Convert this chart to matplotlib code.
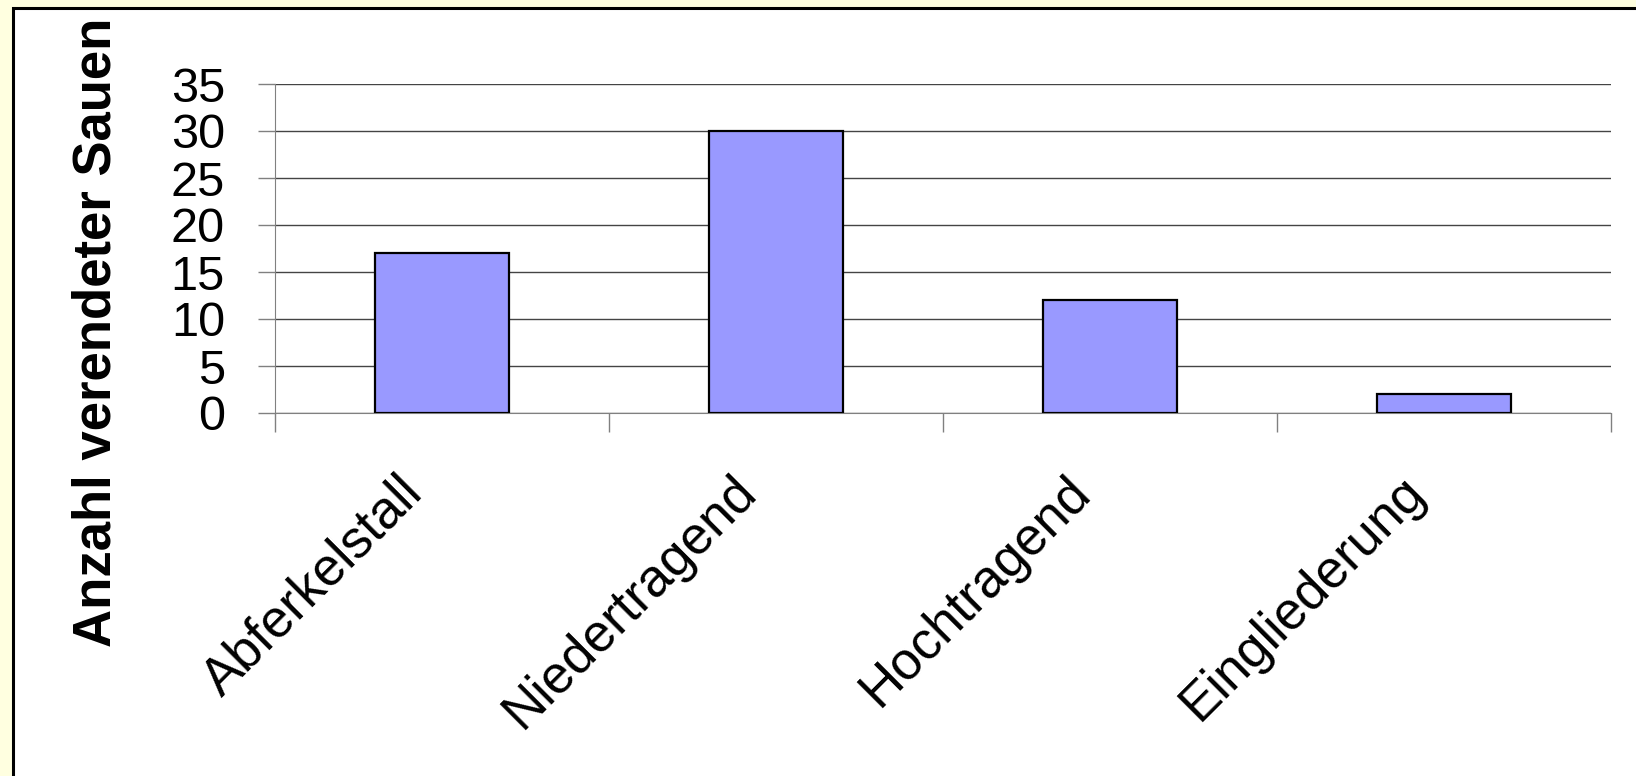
import matplotlib
matplotlib.use("Agg")
import matplotlib.pyplot as plt
import matplotlib.transforms as mtransforms
from matplotlib.patches import Rectangle
import numpy as np

# Data
categories = ["Abferkelstall", "Niedertragend", "Hochtragend", "Eingliederung"]
counts = [17, 30, 12, 2]
y_ticks = [0, 5, 10, 15, 20, 25, 30, 35]

plt.rcParams['font.family'] = ['Liberation Sans', 'DejaVu Sans']

fig = plt.figure(figsize=(16.36, 7.76), dpi=100)
fig.patch.set_facecolor('#FFFFE0')

# white chart frame with black border (runs off the right/bottom edges)
frame = Rectangle((13 / 1636, -0.05), 1.1, 1 - 8 / 776 + 0.05,
                  transform=fig.transFigure, facecolor='white',
                  edgecolor='black', linewidth=2.2, zorder=-5)
fig.patches.append(frame)

ax = fig.add_axes([275 / 1636, 1 - 413 / 776, (1611 - 275) / 1636, (413 - 84) / 776])
ax.set_zorder(5)
ax.set_facecolor('none')

x = np.arange(len(categories))
ax.bar(x, counts, width=0.4, color='#9999FF', edgecolor='black',
       linewidth=1.6, zorder=3)

ax.set_xlim(-0.5, len(categories) - 0.5)
ax.set_ylim(0, 35)
ax.set_yticks(y_ticks)
ax.set_yticklabels([str(v) for v in y_ticks], fontsize=35)
ax.yaxis.grid(True, color='#444444', linewidth=1.0, zorder=1)
ax.tick_params(axis='y', length=12, width=1, color='#808080', pad=24)

ax.set_xticks(x)
ax.set_xticklabels(categories, rotation=45, ha='right', va='top',
                   rotation_mode='anchor', fontsize=38)
ax.tick_params(axis='x', which='major', length=0, pad=40)
ax.set_xticks(np.arange(len(categories) + 1) - 0.5, minor=True)
ax.tick_params(axis='x', which='minor', length=14, width=1, color='#808080')

# shift the slanted labels a bit to the left, like the original
shift = mtransforms.ScaledTranslation(-0.45, 0.02, fig.dpi_scale_trans)
for lbl in ax.get_xticklabels():
    lbl.set_transform(lbl.get_transform() + shift)

for side in ['top', 'right']:
    ax.spines[side].set_visible(False)
ax.spines['left'].set_color('#808080')
ax.spines['bottom'].set_color('#808080')

fig.text(97 / 1636, 1 - 332 / 776, "Anzahl verendeter Sauen", rotation=90,
         ha='center', va='center', fontsize=38, fontweight='bold')

fig.savefig("out.png", dpi=100, facecolor=fig.get_facecolor())
